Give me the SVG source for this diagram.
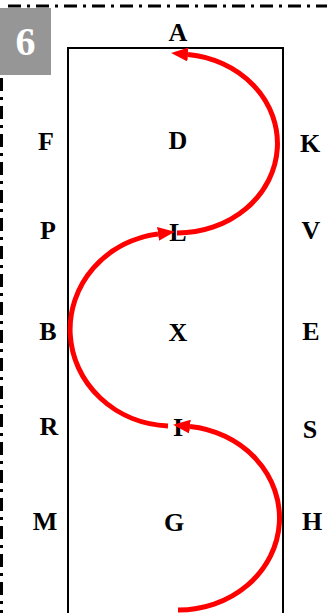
<svg xmlns="http://www.w3.org/2000/svg" width="327" height="613" viewBox="0 0 327 613">
<style>
.lbl{font-family:"Liberation Serif","Times New Roman",serif;font-weight:bold;font-size:26px;fill:#000;text-anchor:middle}
.arc{fill:none;stroke:#ff0000;stroke-width:5;marker-end:url(#ah)}
.frame{fill:none;stroke:#000;stroke-width:3;stroke-dasharray:13 6 3 6}
</style>
<defs>
<marker id="ah" markerUnits="userSpaceOnUse" viewBox="0 0 17 14" refX="0" refY="7" markerWidth="17" markerHeight="14" orient="auto">
<path d="M0,0 L17,7 L0,14 z" fill="#ff0000"/>
</marker>
</defs>
<rect width="327" height="613" fill="#fff"/>
<g id="frame">
<line class="frame" x1="8" y1="6" x2="327" y2="6"/>
<line class="frame" x1="1.5" y1="78" x2="1.5" y2="613"/>
</g>
<g id="badge">
<rect x="0" y="8" width="51" height="67" fill="#969696"/>
<text x="25.5" y="55" style="font-family:'Liberation Serif','Times New Roman',serif;font-weight:bold;font-size:40px;fill:#fff;text-anchor:middle">6</text>
</g>
<g id="column">
<path d="M68,620 L68,48 L283,48 L283,620" fill="none" stroke="#000" stroke-width="2"/>
</g>
<g id="labels">
<text class="lbl" x="178" y="41">A</text>
<text class="lbl" x="46" y="150">F</text>
<text class="lbl" x="178" y="149">D</text>
<text class="lbl" x="310" y="152">K</text>
<text class="lbl" x="48" y="239">P</text>
<text class="lbl" x="178" y="241">L</text>
<text class="lbl" x="311" y="239">V</text>
<text class="lbl" x="48" y="340">B</text>
<text class="lbl" x="178" y="341">X</text>
<text class="lbl" x="311" y="340">E</text>
<text class="lbl" x="49" y="435">R</text>
<text class="lbl" x="178" y="436">I</text>
<text class="lbl" x="310" y="438">S</text>
<text class="lbl" x="45" y="530">M</text>
<text class="lbl" x="174" y="531">G</text>
<text class="lbl" x="312" y="530">H</text>
</g>
<g id="connectors">
<path class="arc" d="M177,233 A100,89.5 0 0 0 188,54.5"/>
<path class="arc" d="M168,425.9 A102,96.5 0 0 1 158,233.9"/>
<path class="arc" d="M178,610 A101,92 0 0 0 190,426.6"/>
</g>
</svg>
